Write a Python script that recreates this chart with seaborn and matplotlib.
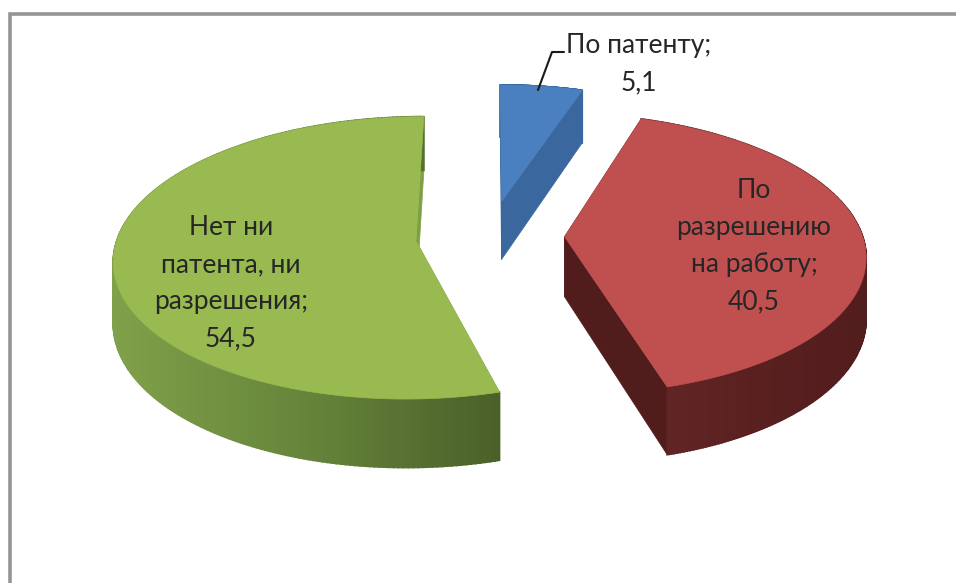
import numpy as np
import seaborn as sns
import matplotlib
matplotlib.use("Agg")
import matplotlib.pyplot as plt

# ---- data ----
categories = ["По патенту", "По разрешению на работу", "Нет ни патента, ни разрешения"]
values = [5.1, 40.5, 54.5]
value_labels = ["5,1", "40,5", "54,5"]
label_lines = ["По патенту;\n5,1",
               "По\nразрешению\nна работу;\n40,5",
               "Нет ни\nпатента, ни\nразрешения;\n54,5"]
top_colors = ["#4A80BF", "#C0504F", "#98BA50"]
side_ramps = [["#3A679E", "#3A679E"],
              ["#642626", "#5A2020", "#521D1D"],
              ["#80A04A", "#66853A", "#4A6029"]]
cut_colors = ["#3A679E", "#501C1C", "#7F9F45"]

sns.set_theme(style="white")
plt.rcParams["font.family"] = ["Lato", "DejaVu Sans"]

fig = plt.figure(figsize=(9.56, 5.83), dpi=100, facecolor="white")
ax = fig.add_axes([0, 0, 1, 1])
ax.set_xlim(0, 956)
ax.set_ylim(583, 0)
ax.axis("off")

# projection of the tilted pie
CX, CY, FX, FY, P, H, EXPL = 490, 236, 298, 138, 0.12, 60, 0.25


def project(x, y, z=0.0):
    s = 1.0 / (1.0 + P * np.asarray(y))
    return CX + FX * np.asarray(x) * s, CY - FY * np.asarray(y) * s + H * z * s


fractions = np.array(values) / np.sum(values)
edges = np.concatenate([[0], np.cumsum(fractions)]) * 2 * np.pi

for i in range(len(values)):
    a0, a1 = edges[i], edges[i + 1]
    mid = (a0 + a1) / 2
    ox, oy = EXPL * np.sin(mid), EXPL * np.cos(mid)
    if i == 0:
        oy *= 1.05
    t = np.linspace(a0, a1, 240)
    rx, ry = ox + np.sin(t), oy + np.cos(t)

    # flat cut faces
    for a in (a0, a1):
        ex, ey = ox + np.sin(a), oy + np.cos(a)
        xs = np.array([ox, ex, ex, ox])
        ys = np.array([oy, ey, ey, oy])
        zs = np.array([0, 0, 1, 1])
        px, py = project(xs, ys, zs)
        ax.fill(px, py, color=cut_colors[i], lw=0.5, zorder=2 + i)

    # outer rim as a shaded ribbon
    px0, py0 = project(rx, ry, 0)
    px1, py1 = project(rx, ry, 1)
    ramp = sns.blend_palette(side_ramps[i], n_colors=len(t))
    idx = ((px0 - px0.min()) / (px0.max() - px0.min()) * (len(t) - 1)).astype(int)
    for k in range(len(t) - 1):
        ax.fill([px0[k], px0[k + 1], px1[k + 1], px1[k]],
                [py0[k], py0[k + 1], py1[k + 1], py1[k]],
                color=ramp[idx[k]], lw=1.2, zorder=2 + i)

    # top face
    qx = np.concatenate([[ox], rx])
    qy = np.concatenate([[oy], ry])
    px, py = project(qx, qy, 0)
    ax.fill(px, py, color=top_colors[i], lw=0.5, zorder=3 + i)

# frame of the chart area
ax.plot([10, 10, 956], [583, 14, 14], color="#959595", lw=2.6, zorder=1,
        solid_joinstyle="miter")

# labels
txt = dict(ha="center", va="center", color="#262626", fontsize=19,
           linespacing=1.6, zorder=10)
ax.text(639, 64, label_lines[0], **txt)
ax.text(754, 246, label_lines[1], **txt)
ax.text(231, 283, label_lines[2], **txt)
ax.plot([538, 552, 564], [90, 52, 52], color="#1a1a1a", lw=1.5, zorder=10)

fig.savefig("out.png", dpi=100)
